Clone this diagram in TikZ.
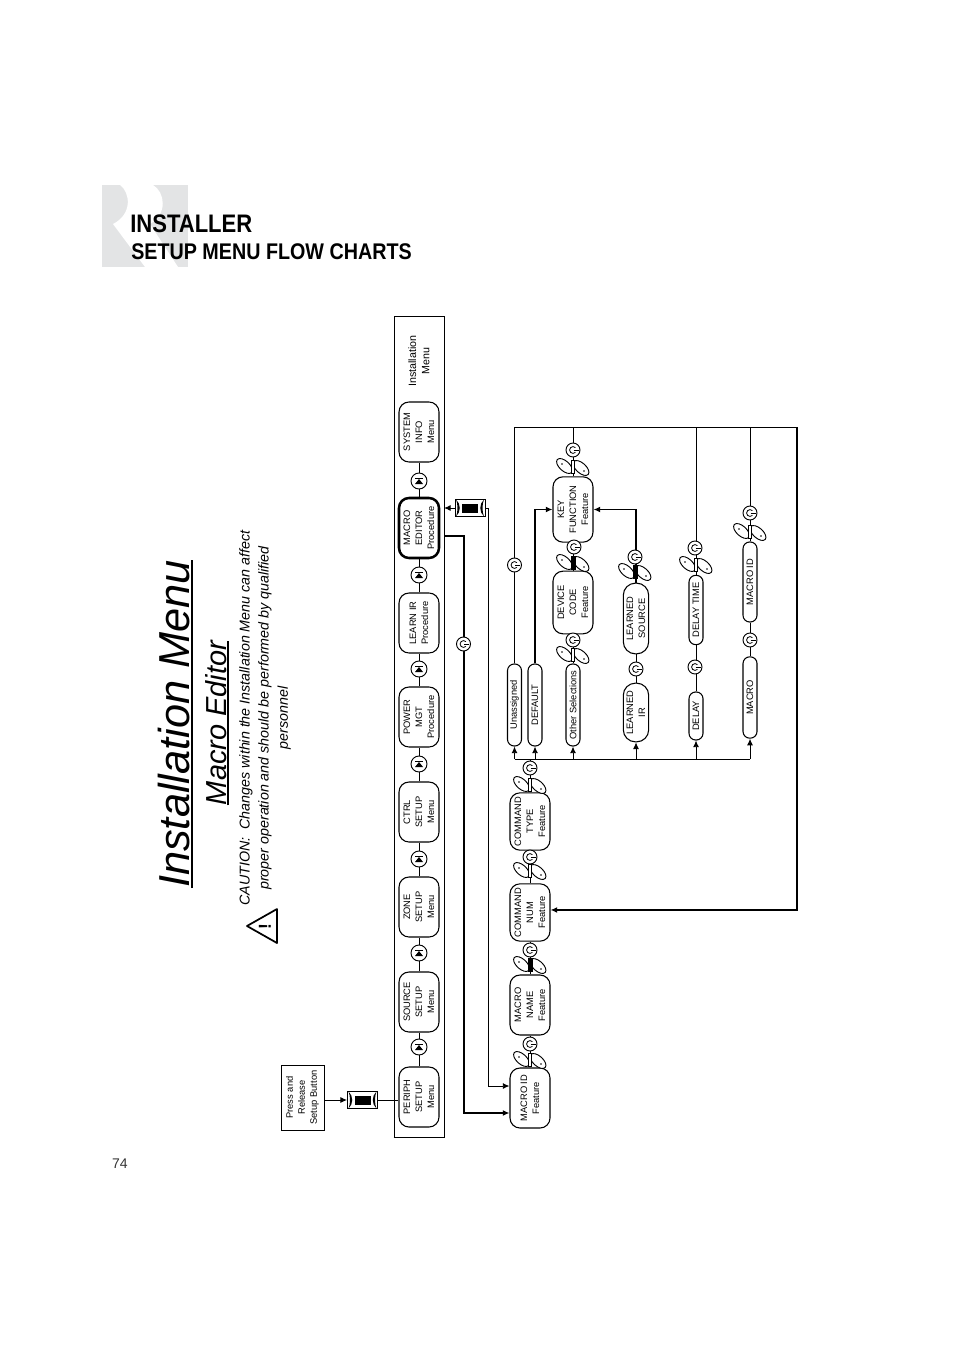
\documentclass[tikz,border=0pt]{standalone}
\usepackage{fontspec}
\setmainfont{Liberation Sans}
\newfontfamily\headfont[FakeStretch=0.87]{Liberation Sans}
\usetikzlibrary{arrows.meta,shapes.geometric}
\definecolor{logogray}{HTML}{E3E4E5}
\begin{document}
\begin{tikzpicture}[
    x=0.75pt, y=-0.75pt,
    >={Latex[length=5pt,width=4.5pt]},
    boxbase/.style={draw, rotate=90, align=center, inner sep=0pt, fill=white, line width=0.8pt,
        font=\fontsize{7}{9}\selectfont},
    menubox/.style={boxbase, minimum width=45pt, minimum height=30pt, rounded corners=7.5pt},
    pillbox/.style={boxbase, minimum height=10.5pt, rounded corners=5pt},
    widepill/.style={boxbase, minimum height=19pt, rounded corners=9pt},
    flow/.style={line width=0.7pt},
    midflow/.style={line width=1pt},
    heavyflow/.style={line width=1.3pt},
    powerbtn/.style={draw, circle, fill=white, minimum size=10.5pt, inner sep=0pt, line width=0.7pt,
        path picture={
            \draw[line width=0.6pt, shift={(path picture bounding box.center)}]
                (2.4,-2.4) arc (-45:-315:3.4);
            \draw[line width=0.6pt, shift={(path picture bounding box.center)}] (0.5,0) -- (5.5,0);
        }},
    setupbtn/.style={draw, circle, fill=white, minimum size=12pt, inner sep=0pt, line width=0.7pt,
        path picture={
            \fill[black, shift={(path picture bounding box.center)}] (0,-2) -- (4,3) -- (-4,3) -- cycle;
            \draw[line width=0.6pt, shift={(path picture bounding box.center)}] (-4,-2.5) -- (4,-2.5);
        }},
    keybox/.style={draw, fill=white, minimum width=22.5pt, minimum height=13pt, inner sep=0pt, line width=0.7pt,
        path picture={
            \begin{scope}[shift={(path picture bounding box.center)}]
                \fill[black] (-8,-4.5) rectangle (8,4.5);
                \fill[black] (-14,-8.5) .. controls (-9,-4) and (-9,4) .. (-14,8.5) .. controls (-12,4) and (-12,-4) .. (-14,-8.5);
                \fill[black] (14,-8.5) .. controls (9,-4) and (9,4) .. (14,8.5) .. controls (12,4) and (12,-4) .. (14,-8.5);
            \end{scope}
        }},
    leaf/.style={draw, ellipse, fill=white, rotate=-42, minimum width=14.5pt, minimum height=7.5pt,
        inner sep=0pt, line width=0.7pt},
    leafdot/.style={fill, circle, minimum size=1.4pt, inner sep=0pt},
    barthin/.style={draw, fill=white, minimum width=2.4pt, minimum height=10pt, inner sep=0pt, line width=0.5pt},
    barblack/.style={draw, fill=black, minimum width=3pt, minimum height=10pt, inner sep=0pt, line width=0.5pt},
]
\useasboundingbox (0,0) rectangle (954,1351);

% Logo
\fill[logogray] (102,185) rectangle (188,267);
\fill[white] (120,185) .. controls (130,192) and (133,214) .. (113,224) -- (145,267) -- (178,267) -- (150,224)
    .. controls (168,214) and (165,192) .. (153,185) -- cycle;

% Header
\node[anchor=base west, inner sep=0pt, font=\headfont\bfseries\fontsize{19}{19}\selectfont] (hdtop) at (130,233) {INSTALLER};
\node[anchor=base west, inner sep=0pt, font=\headfont\bfseries\fontsize{17}{17}\selectfont] (hdsub) at (131,260) {SETUP MENU FLOW CHARTS};
\node[font=\fontsize{10.5}{12}\selectfont, text=black!80] (pagenum) at (120,1164) {74};

% Titles
\node[rotate=90, anchor=base, inner sep=0pt, font=\itshape\fontsize{32.5}{36}\selectfont] (title) at (189.5,724) {Installation Menu};
\node[rotate=90, anchor=base, inner sep=0pt, font=\itshape\fontsize{21.7}{24}\selectfont] (subtitle) at (226,723) {Macro Editor};
\draw[line width=1pt] ([xshift=1.8pt]title.base west) -- ([xshift=1.8pt]title.base east);
\draw[line width=1pt] ([xshift=1.5pt]subtitle.base west) -- ([xshift=1.5pt]subtitle.base east);
\node[rotate=90, align=center, inner sep=0pt, font=\itshape\fontsize{10.7}{14.3}\selectfont] (caution) at (265,718)
    {CAUTION:\ \ Changes within the Installation Menu can affect\\proper operation and should be performed by qualified\\personnel};

% Warning sign
\draw[line width=1.3pt, line join=round] (247,926) -- (277,909) -- (277,943) -- cycle;
\node[rotate=90, inner sep=0pt, font=\bfseries\fontsize{13}{13}\selectfont] (warnmark) at (265,927) {!};

% Menu row
\node[draw, line width=0.6pt, minimum width=37.5pt, minimum height=615.75pt, inner sep=0pt] (menuframe) at (419,726.5) {};
\draw[line width=1.2pt] (menuframe.south west) -- (menuframe.south east);
\node[draw, line width=0.6pt, rotate=90, align=center, inner sep=0pt, minimum width=48.75pt, minimum height=32.25pt,
    font=\fontsize{7}{9}\selectfont] (press) at (302.5,1097.5) {Press and\\Release\\Setup Button};
\node[menubox] (periph) at (419,1097) {PERIPH\\SETUP\\Menu};
\node[menubox] (source) at (419,1002) {SOURCE\\SETUP\\Menu};
\node[menubox] (zone) at (419,907) {ZONE\\SETUP\\Menu};
\node[menubox] (ctrl) at (419,812) {CTRL\\SETUP\\Menu};
\node[menubox] (power) at (419,717) {POWER\\MGT\\Procedure};
\node[menubox] (learn) at (419,623) {LEARN IR\\Procedure};
\node[menubox, line width=1.9pt] (editor) at (419,528) {MACRO\\EDITOR\\Procedure};
\node[menubox] (sysinfo) at (419,432) {SYSTEM\\INFO\\Menu};
\node[rotate=90, align=center, inner sep=0pt, font=\fontsize{8}{10}\selectfont] (menulabel) at (419,361) {Installation\\Menu};

% Feature column
\node[menubox] (macroid) at (530,1098) {MACRO ID\\Feature};
\node[menubox] (macroname) at (530,1005) {MACRO\\NAME\\Feature};
\node[menubox, minimum width=43pt] (cmdnum) at (530,912.5) {COMMAND\\NUM\\Feature};
\node[menubox, minimum width=43pt] (cmdtype) at (530,821.5) {COMMAND\\TYPE\\Feature};

% Selections
\node[pillbox, minimum width=61.5pt] (unassigned) at (514.5,705) {Unassigned};
\node[pillbox, minimum width=61.5pt] (default) at (535,705) {DEFAULT};
\node[pillbox, minimum width=61.5pt] (other) at (573,705) {Other Selections};
\node[menubox, minimum width=47pt] (devcode) at (573,602.5) {DEVICE\\CODE\\Feature};
\node[menubox, minimum width=49pt] (keyfunc) at (573,509.5) {KEY\\FUNCTION\\Feature};
\node[widepill, minimum width=44pt] (learnedir) at (636,712.5) {LEARNED\\IR};
\node[widepill, minimum width=53pt] (learnedsrc) at (636,618.5) {LEARNED\\SOURCE};
\node[pillbox, minimum width=36pt] (delay) at (696,716) {DELAY};
\node[pillbox, minimum width=52pt] (delaytime) at (696,610) {DELAY TIME};
\node[pillbox, minimum width=61pt] (macrosel) at (750,697.5) {MACRO};
\node[pillbox, minimum width=60pt] (macrosid) at (750,582) {MACRO ID};

% Key symbols
\node[keybox] (keyA) at (362.5,1100) {};
\node[keybox] (keyB) at (470,508) {};

% Junctions
\coordinate (busL) at (514.5,759);
\coordinate (busM) at (530,759);
\coordinate (topL) at (514.5,427);
\coordinate (topR) at (797,427);
\coordinate (editorOut) at (444,536);
\coordinate (keyBIn) at (444,508);

% Edges, menu row
\draw[flow, ->] (press.south |- keyA) -- (keyA);
\draw[flow] (keyA) -- (periph.north |- keyA);
\foreach \lower/\upper in {periph/source, source/zone, zone/ctrl, ctrl/power, power/learn, learn/editor, editor/sysinfo}
    \draw[flow] (\lower) -- (\upper);
\draw[flow, ->] (keyB) -- (keyBIn);
\draw[flow, ->] (keyB.east) -| (488,1086) -- ([yshift=9pt]macroid.north);
\draw[heavyflow, ->] (editorOut) -| (464,1113) -- ([yshift=-11.25pt]macroid.north);

% Edges, features
\draw[flow] (macroid) -- (macroname);
\draw[flow] (macroname) -- (cmdnum);
\draw[flow] (cmdnum) -- (cmdtype);
\draw[flow] (cmdtype) -- (busM);
\draw[flow] (busL) -- (macrosel.west |- busL);
\draw[flow, ->] (busL) -- (unassigned.west);
\draw[flow, ->] (default.west |- busL) -- (default.west);
\draw[flow, ->] (other.west |- busL) -- (other.west);
\draw[flow, ->] (learnedir.west |- busL) -- (learnedir.west);
\draw[flow, ->] (delay.west |- busL) -- (delay.west);
\draw[flow, ->] (macrosel.west |- busL) -- (macrosel.west);

% Edges, selections
\draw[flow] (unassigned.east) -- (topL) -- (topR);
\draw[midflow, ->] (topR) |- ([yshift=1.9pt]cmdnum.south);
\draw[midflow, ->] (default.east) |- (keyfunc.north);
\draw[flow] (other) -- (devcode);
\draw[flow] (devcode) -- (keyfunc);
\draw[flow] (keyfunc.east) -- (keyfunc.east |- topL);
\draw[flow] (learnedir) -- (learnedsrc);
\draw[midflow, ->] (learnedsrc.east) |- (keyfunc.south);
\draw[flow] (delay) -- (delaytime);
\draw[flow] (delaytime.east) -- (delaytime.east |- topL);
\draw[flow] (macrosel) -- (macrosid);
\draw[flow] (macrosid.east) -- (macrosid.east |- topL);

% Setup buttons
\foreach \name/\y in {setA/1047, setB/953, setC/859, setD/764, setE/669, setF/575, setG/481}
    \node[setupbtn] (\name) at (419,\y) {};

% Power buttons
\foreach \name/\x/\y in {powA/530/1044, powB/530/950, powC/530/857, powD/530/768, powE/573/640, powF/574/547,
    powG/573/450, powH/636/669, powI/635/557, powJ/695/667, powK/695/548, powL/750/640, powM/750/513,
    powN/514.5/565, powO/463.5/644}
    \node[powerbtn] (\name) at (\x,\y) {};

% Rockers
\foreach \name/\x/\y/\bar in {rockA/530/1060/barthin, rockB/530/965/barblack, rockC/530/871/barthin,
    rockD/530/785/barthin, rockE/573/655/barthin, rockF/573/563/barblack, rockG/573/467/barthin,
    rockH/635/572/barblack, rockI/696/565/barthin, rockJ/750/532/barthin}
{
    \node[leaf] (\name a) at (\x-8.5,\y-1) {};
    \node[leaf] (\name b) at (\x+8,\y+1) {};
    \node[\bar] (\name c) at (\x,\y) {};
    \node[leafdot] (\name d) at (\x-11,\y-3) {};
    \node[leafdot] (\name e) at (\x+11,\y+4) {};
}

\end{tikzpicture}
\end{document}
